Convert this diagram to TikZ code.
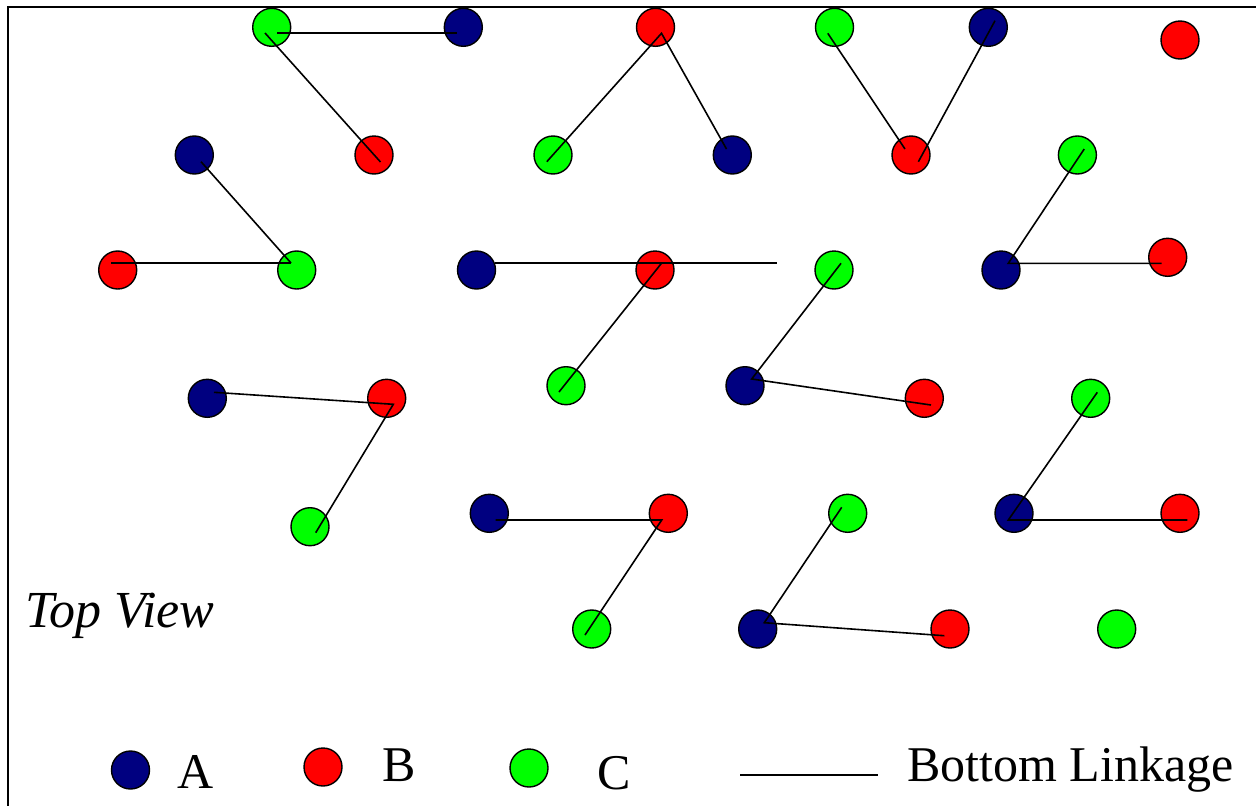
\documentclass[tikz,border=0pt]{standalone}
\usepackage{fontspec}
\setmainfont{Liberation Serif}
\definecolor{partA}{HTML}{000080}
\definecolor{partB}{HTML}{FF0000}
\definecolor{partC}{HTML}{00FF00}
\tikzset{
  disc/.style={circle,draw=black,line width=1.4pt,minimum size=38pt,inner sep=0pt},
  discA/.style={disc,fill=partA},
  discB/.style={disc,fill=partB},
  discC/.style={disc,fill=partC},
  linkage/.style={draw=black,line width=1.6pt},
  frameline/.style={draw=black,line width=2.2pt},
  label/.style={anchor=base west,inner sep=0pt,font=\fontsize{50}{60}\selectfont}
}
\begin{document}
\begin{tikzpicture}[x=1pt,y=-1pt]
\useasboundingbox (0,0) rectangle (1256,806);
% open frame: top and left edges
\coordinate (fTL) at (8,7);
\coordinate (fTR) at (1256,7);
\coordinate (fBL) at (8,806);
\draw[frameline] (fTR) -- (fTL) -- (fBL);

% row 1
\node[discC] (c1) at (271.7,27.3) {};
\node[discA] (a1) at (463.3,27.3) {};
\node[discB] (b1) at (655.5,27.3) {};
\node[discC] (c2) at (834.5,27.3) {};
\node[discA] (a2) at (988.3,27.3) {};
\node[discB] (b2) at (1180,40) {};
% row 2
\node[discA] (a3) at (194.3,155) {};
\node[discB] (b3) at (374,155) {};
\node[discC] (c3) at (553,155) {};
\node[discA] (a4) at (732.3,155) {};
\node[discB] (b4) at (911,155) {};
\node[discC] (c4) at (1077.4,155) {};
% row 3
\node[discB] (b5) at (117.7,270) {};
\node[discC] (c5) at (296.7,270) {};
\node[discA] (a5) at (476.5,270) {};
\node[discB] (b6) at (655,270) {};
\node[discC] (c6) at (834,270) {};
\node[discA] (a6) at (1001,270) {};
\node[discB] (b7) at (1167.7,257.3) {};
% row 4
\node[discA] (a7) at (207.3,398.3) {};
\node[discB] (b8) at (386.7,398.3) {};
\node[discC] (c7) at (566,385.7) {};
\node[discA] (a8) at (745,385.7) {};
\node[discB] (b9) at (924.3,398.3) {};
\node[discC] (c8) at (1090.7,398.3) {};
% row 5
\node[discC] (c9) at (310,526.7) {};
\node[discA] (a9) at (489.3,513.3) {};
\node[discB] (b10) at (668.3,513.3) {};
\node[discC] (c10) at (847.7,513.3) {};
\node[discA] (a10) at (1014,513.3) {};
\node[discB] (b11) at (1180,513.3) {};
% row 6
\node[discC] (c11) at (591.7,629) {};
\node[discA] (a11) at (757.7,629) {};
\node[discB] (b12) at (950,629) {};
\node[discC] (c12) at (1116.7,629) {};

% bottom linkages
\draw[linkage] ([shift={(5.3,5.7)}]c1.center) -- ([shift={(-6.3,5.7)}]a1.center);
\draw[linkage] ([shift={(-6.7,5.7)}]c1.center) -- ([shift={(6.5,7)}]b3.center);
\draw[linkage] ([shift={(6.7,6.7)}]a3.center) -- ([shift={(-5.7,-7)}]c5.center);
\draw[linkage] ([shift={(-6.7,-7)}]b5.center) -- ([shift={(-5.7,-7)}]c5.center);
\draw[linkage] ([shift={(-6.2,6.7)}]c3.center) -- ([shift={(6,6)}]b1.center) -- ([shift={(-5.8,-6)}]a4.center);
\draw[linkage] ([shift={(-6.7,6)}]c2.center) -- ([shift={(-6,-6)}]b4.center);
\draw[linkage] ([shift={(6.7,-6.6)}]a2.center) -- ([shift={(7.4,6.7)}]b4.center);
\draw[linkage] ([shift={(6.8,-6)}]c4.center) -- ([shift={(7.3,-6.7)}]a6.center) -- ([shift={(-6,6)}]b7.center);
\draw[linkage] ([shift={(18.5,-7)}]a5.center) -- ([shift={(6.7,-7)}]b6.center) -- ([shift={(-7,6.3)}]c7.center);
\coordinate (free) at (777,263);
\draw[linkage] ([shift={(-44,-7)}]b6.center) -- (free);
\draw[linkage] ([shift={(7,-6.7)}]c6.center) -- ([shift={(6.7,-6.7)}]a8.center) -- ([shift={(6.7,6.7)}]b9.center);
\draw[linkage] ([shift={(6.7,-6)}]a7.center) -- ([shift={(6.6,6)}]b8.center) -- ([shift={(5.7,6)}]c9.center);
\draw[linkage] ([shift={(6.4,6.7)}]a9.center) -- ([shift={(-6.6,6.7)}]b10.center) -- ([shift={(-6.7,6)}]c11.center);
\draw[linkage] ([shift={(-6,-6)}]c10.center) -- ([shift={(6.6,-6.3)}]a11.center) -- ([shift={(-5.7,6.7)}]b12.center);
\draw[linkage] ([shift={(6.6,-6)}]c8.center) -- ([shift={(-5.7,6.7)}]a10.center) -- ([shift={(7.3,6.7)}]b11.center);

% caption
\node[anchor=base west,inner sep=0pt,font=\fontsize{52}{62}\selectfont\itshape] (view) at (25,627) {Top View};

% legend
\node[discA] (legA) at (130.5,770) {};
\node[label] (txtA) at (177,788) {A};
\node[discB] (legB) at (323,767) {};
\node[label] (txtB) at (382,781) {B};
\node[discC] (legC) at (529,768) {};
\node[label] (txtC) at (597,789) {C};
\coordinate (legL1) at (740,775);
\coordinate (legL2) at (878,775);
\draw[linkage] (legL1) -- (legL2);
\node[label] (txtL) at (907,781) {Bottom Linkage};
\end{tikzpicture}
\end{document}
